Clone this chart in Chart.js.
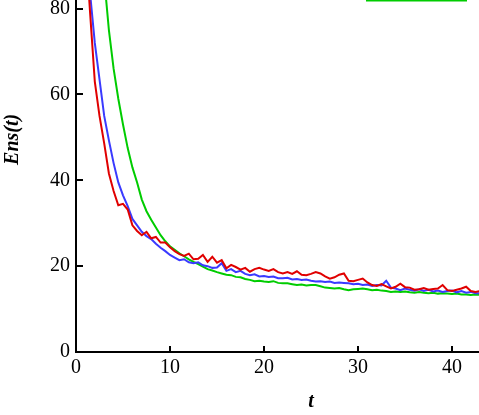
<!DOCTYPE html>
<html>
<head>
<meta charset="utf-8">
<script src="https://cdn.jsdelivr.net/npm/chart.js@4.4.1/dist/chart.umd.min.js"></script>
<style>
    html, body { margin: 0; padding: 0; background: #fff; overflow: hidden; }
    #wrap { width: 479px; height: 415px; position: relative; }
</style>
</head>
<body>
<div id="wrap"><canvas id="ensChart"></canvas></div>
<script>
// waktu t (sumbu x)
const tValues = [
    1.0, 1.5, 2.0, 2.5, 3.0, 3.5, 4.0, 4.5, 5.0, 5.5, 6.0, 6.5, 7.0, 7.5, 8.0, 8.5, 9.0, 9.5,
    10.0, 10.5, 11.0, 11.5, 12.0, 12.5, 13.0, 13.5, 14.0, 14.5, 15.0, 15.5, 16.0, 16.5, 17.0, 17.5,
    18.0, 18.5, 19.0, 19.5, 20.0, 20.5, 21.0, 21.5, 22.0, 22.5, 23.0, 23.5, 24.0, 24.5, 25.0, 25.5,
    26.0, 26.5, 27.0, 27.5, 28.0, 28.5, 29.0, 29.5, 30.0, 30.5, 31.0, 31.5, 32.0, 32.5, 33.0, 33.5,
    34.0, 34.5, 35.0, 35.5, 36.0, 36.5, 37.0, 37.5, 38.0, 38.5, 39.0, 39.5, 40.0, 40.5, 41.0, 41.5,
    42.0, 42.5, 43.0
];

// Ens(t) - kurva merah
const redValues = [
    96, 79, 63, 55, 48.6, 41.6, 37.5, 34.2, 34.5, 33.2, 29.5, 28.2, 27.2, 28.0, 26.5, 26.8, 25.5, 25.5,
    24.4, 23.5, 22.8, 22.4, 22.9, 21.6, 21.7, 22.6, 21.0, 22.2, 20.8, 21.4, 19.5, 20.3, 19.8, 19.2,
    19.6, 18.7, 19.3, 19.6, 19.2, 18.9, 19.3, 18.6, 18.3, 18.6, 18.2, 18.8, 18.0, 17.9, 18.2, 18.6,
    18.3, 17.6, 17.1, 17.4, 18.0, 18.3, 16.6, 16.5, 16.8, 17.1, 16.2, 15.6, 15.4, 15.8, 15.3, 14.8,
    15.2, 15.9, 15.1, 15.0, 14.5, 14.6, 14.9, 14.5, 14.7, 14.8, 15.6, 14.4, 14.2, 14.5, 14.8, 15.2,
    14.2, 14.0, 14.2
];

// Ens(t) - kurva biru
const blueValues = [
    100, 83.5, 72, 63.5, 55, 49.3, 44, 39.5, 36.5, 34, 31, 29.5, 28, 27, 26.3, 25.2, 24.3, 23.5,
    22.6, 22.0, 21.4, 21.6, 20.9, 20.7, 20.9, 20.2, 20.0, 19.6, 19.7, 20.7, 18.9, 19.3, 18.6, 18.9,
    18.2, 17.9, 18.1, 17.6, 17.7, 17.5, 17.6, 17.2, 17.2, 17.3, 16.9, 17.0, 16.8, 16.9, 16.6, 16.4,
    16.5, 16.3, 16.4, 16.1, 16.2, 16.1, 16.0, 15.8, 15.9, 15.6, 15.7, 15.4, 15.6, 15.5, 16.6, 15.0,
    14.8, 14.4, 14.8, 14.5, 14.3, 14.6, 14.2, 14.5, 14.1, 14.3, 14.0, 14.2, 14.3, 13.9, 14.2, 13.8,
    14.0, 13.7, 13.7
];

// Ens(t) - kurva hijau (mulai dari t = 2.5)
const greenValues = [
    null, null, null, 100, 87, 75, 66, 59, 53, 47.5, 43, 39.5, 35.5, 32.8, 30.8, 29, 27.2, 25.8,
    24.6, 23.8, 23.0, 22.3, 21.6, 21.0, 20.5, 19.9, 19.3, 19.0, 18.6, 18.3, 18.0, 17.9, 17.5, 17.4,
    17.0, 16.8, 16.5, 16.6, 16.4, 16.3, 16.5, 16.1, 16.0, 16.0, 15.8, 15.6, 15.7, 15.5, 15.6, 15.6,
    15.3, 15.0, 14.9, 14.8, 14.9, 14.6, 14.4, 14.6, 14.7, 14.8, 14.6, 14.4, 14.5, 14.3, 14.2, 14.0,
    14.1, 14.0, 14.1, 13.9, 13.8, 14.0, 13.8, 13.7, 13.8, 13.6, 13.7, 13.6, 13.5, 13.6, 13.4, 13.4,
    13.3, 13.4, 13.3
];

// label tick
const xTicks = [0, 10, 20, 30, 40];
const yTicks = [0, 20, 40, 60, 80];

// rentang sumbu yang terlihat, dan rentang penuh (untuk posisi judul sumbu)
const xRange = [0, 42.87];
const yRange = [0, 82];
const xFullMid = 25;
const yFullMid = 50;

const serif = "'Liberation Serif', 'Times New Roman', serif";

function toPoints(values) {
    return tValues.map((t, i) => ({ x: t, y: values[i] }));
}

// tick ke dalam + judul sumbu + potongan legenda hijau di atas
const decorPlugin = {
    id: 'decor',
    afterDraw(chart) {
        const { ctx, chartArea, scales } = chart;
        const xs = scales.x, ys = scales.y;
        ctx.save();
        ctx.strokeStyle = '#000';
        ctx.lineWidth = 2;
        xTicks.forEach(v => {
            if (v === 0) return;
            const px = Math.round(xs.getPixelForValue(v));
            ctx.beginPath();
            ctx.moveTo(px, chartArea.bottom);
            ctx.lineTo(px, chartArea.bottom - 6);
            ctx.stroke();
        });
        yTicks.forEach(v => {
            if (v === 0) return;
            const py = Math.round(ys.getPixelForValue(v));
            ctx.beginPath();
            ctx.moveTo(chartArea.left, py);
            ctx.lineTo(chartArea.left + 7, py);
            ctx.stroke();
        });

        ctx.fillStyle = '#000';
        ctx.font = 'italic bold 20px ' + serif;
        ctx.textAlign = 'center';
        ctx.textBaseline = 'middle';
        ctx.fillText('t', xs.getPixelForValue(xFullMid), 402);

        ctx.translate(13, ys.getPixelForValue(yFullMid) + 2);
        ctx.rotate(-Math.PI / 2);
        ctx.fillText('Ens(t)', 0, 0);
        ctx.restore();

        // sisa garis legenda (terpotong di tepi atas)
        ctx.save();
        ctx.strokeStyle = '#00cc00';
        ctx.lineWidth = 2;
        ctx.beginPath();
        ctx.moveTo(chartArea.right - 113, 0.5);
        ctx.lineTo(chartArea.right - 12, 0.5);
        ctx.stroke();
        ctx.restore();
    }
};

const lineStyle = { borderWidth: 2, pointRadius: 0, tension: 0, fill: false };

new Chart(document.getElementById('ensChart').getContext('2d'), {
    type: 'line',
    data: {
        datasets: [
            { label: 'red', data: toPoints(redValues), borderColor: '#e00000', ...lineStyle },
            { label: 'blue', data: toPoints(blueValues), borderColor: '#3a3aff', ...lineStyle },
            { label: 'green', data: toPoints(greenValues), borderColor: '#00cc00', ...lineStyle }
        ]
    },
    options: {
        responsive: true,
        maintainAspectRatio: false,
        animation: false,
        layout: { padding: 0 },
        plugins: { legend: { display: false }, tooltip: { enabled: false } },
        scales: {
            x: {
                type: 'linear',
                min: xRange[0],
                max: xRange[1],
                afterFit: (scale) => {
                    scale.height = 63;
                    scale.paddingLeft = 0;
                    scale.paddingRight = 0;
                },
                afterBuildTicks: (scale) => { scale.ticks = xTicks.map(v => ({ value: v })); },
                grid: { display: false, drawTicks: false },
                border: { display: true, color: '#000', width: 2 },
                ticks: {
                    color: '#000',
                    padding: 4,
                    maxRotation: 0,
                    font: { family: serif, size: 20 }
                }
            },
            y: {
                type: 'linear',
                min: yRange[0],
                max: yRange[1],
                afterFit: (scale) => {
                    scale.width = 76;
                    scale.paddingTop = 0;
                    scale.paddingBottom = 0;
                },
                afterBuildTicks: (scale) => { scale.ticks = yTicks.map(v => ({ value: v })); },
                grid: { display: false, drawTicks: false },
                border: { display: true, color: '#000', width: 2 },
                ticks: {
                    color: '#000',
                    padding: 6,
                    font: { family: serif, size: 20 }
                }
            }
        }
    },
    plugins: [decorPlugin]
});
</script>
</body>
</html>
